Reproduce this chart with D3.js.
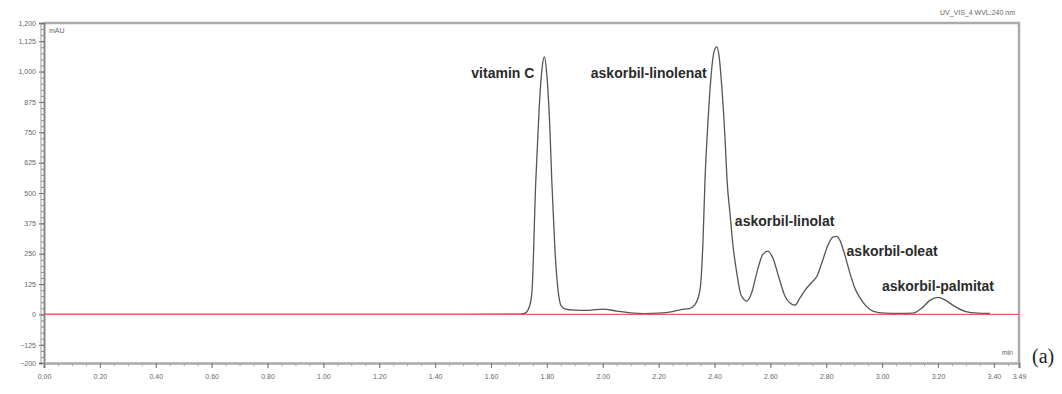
<!DOCTYPE html>
<html>
<head>
<meta charset="utf-8">
<script src="https://cdn.jsdelivr.net/npm/d3@7"></script>
<style>
  body { margin: 0; background: #fff; }
  svg { display: block; font-family: "Liberation Sans", Arial, sans-serif; }
  .tick text { fill: #666; font-size: 7px; }
</style>
</head>
<body>
<svg id="chart" width="1062" height="394"></svg>
<script>
// chromatogram trace (time in min, signal in mAU)
const times = [0.00, 0.30, 0.60, 0.90, 1.20, 1.50, 1.70, 1.722, 1.739, 1.747, 1.760, 1.772, 1.782, 1.791,
  1.800, 1.811, 1.818, 1.829, 1.840, 1.850, 1.865, 1.90, 1.95, 2.00, 2.05, 2.10, 2.15, 2.20, 2.25,
  2.28, 2.31, 2.33, 2.348, 2.359, 2.366, 2.377, 2.388, 2.398, 2.408, 2.416, 2.427, 2.438, 2.445,
  2.456, 2.466, 2.481, 2.495, 2.516, 2.534, 2.552, 2.573, 2.591, 2.609, 2.631, 2.652, 2.670, 2.688,
  2.706, 2.727, 2.749, 2.767, 2.785, 2.806, 2.824, 2.837, 2.849, 2.867, 2.885, 2.903, 2.920, 2.942,
  2.967, 3.010, 3.060, 3.110, 3.142, 3.171, 3.200, 3.228, 3.260, 3.296, 3.343, 3.386];
const signal = [0, 0, 0, 0, 0, 0, 1, 5, 38, 100, 540, 840, 1005, 1060,
  985, 760, 540, 265, 100, 38, 22, 18, 17, 22, 14, 6, 3, 5, 12,
  20, 24, 40, 100, 305, 552, 800, 985, 1080, 1102, 1068, 924, 718, 552,
  410, 286, 162, 80, 55, 92, 174, 247, 261, 232, 150, 76, 47, 38,
  68, 104, 133, 158, 215, 285, 318, 321, 305, 243, 169, 107, 70, 35,
  14, 5, 4, 5, 26, 58, 70, 58, 33, 13, 5, 4];

const peakNames = ["vitamin C", "askorbil-linolenat", "askorbil-linolat", "askorbil-oleat", "askorbil-palmitat"];
const peakTimes = [1.791, 2.408, 2.591, 2.837, 3.200];
const peakHeights = [1060, 1102, 261, 321, 70];

const yTickValues = [1200, 1125, 1000, 875, 750, 625, 500, 375, 250, 125, 0, -125, -200];
const xTickValues = [0, 0.2, 0.4, 0.6, 0.8, 1.0, 1.2, 1.4, 1.6, 1.8, 2.0, 2.2, 2.4, 2.6, 2.8, 3.0, 3.2, 3.4, 3.49];

const svg = d3.select("#chart");
const plot = {left: 44, right: 1019, top: 23, bottom: 363};

const x = d3.scaleLinear().domain([0, 3.49]).range([plot.left, plot.right]);
const y = d3.scaleLinear().domain([-200, 1200]).range([plot.bottom, plot.top]);

// frame (top + right)
svg.append("path")
    .attr("d", `M${plot.left},${plot.top}H${plot.right}V${plot.bottom}`)
    .attr("fill", "none")
    .attr("stroke", "#aaa")
    .attr("stroke-width", 2.5);

// minor ticks
svg.append("g")
    .attr("transform", `translate(${plot.left},0)`)
    .call(d3.axisLeft(y).tickValues(d3.range(-200, 1201, 25)).tickSize(3).tickFormat(""))
    .call(g => g.select(".domain").remove())
    .call(g => g.selectAll("line").attr("stroke", "#888"));
svg.append("g")
    .attr("transform", `translate(0,${plot.bottom})`)
    .call(d3.axisBottom(x).tickValues(d3.range(0, 3.49, 0.05)).tickSize(3).tickFormat(""))
    .call(g => g.select(".domain").remove())
    .call(g => g.selectAll("line").attr("stroke", "#999"));

// major axes
const yAxis = svg.append("g")
    .attr("transform", `translate(${plot.left},0)`)
    .call(d3.axisLeft(y).tickValues(yTickValues).tickSize(5).tickPadding(3).tickFormat(d3.format(",")));
yAxis.select(".domain").attr("stroke", "#888").attr("stroke-width", 2);
yAxis.selectAll(".tick line").attr("stroke", "#666");

const xAxis = svg.append("g")
    .attr("transform", `translate(0,${plot.bottom})`)
    .call(d3.axisBottom(x).tickValues(xTickValues).tickSize(5).tickPadding(6).tickFormat(d3.format(".2f")));
xAxis.select(".domain").attr("stroke", "#aaa").attr("stroke-width", 2.5);
xAxis.selectAll(".tick line").attr("stroke", "#777");

// second thin line on the left axis
svg.append("line")
    .attr("x1", plot.left - 3).attr("x2", plot.left - 3)
    .attr("y1", plot.top).attr("y2", plot.bottom)
    .attr("stroke", "#999").attr("stroke-width", 1);

// units + channel name
svg.append("text").attr("x", plot.left + 5).attr("y", plot.top + 10)
    .attr("font-size", 7).attr("fill", "#666").text("mAU");
svg.append("text").attr("x", plot.right - 6).attr("y", plot.bottom - 8)
    .attr("text-anchor", "end").attr("font-size", 7).attr("fill", "#666").text("min");
svg.append("text").attr("x", plot.right - 4).attr("y", plot.top - 8)
    .attr("text-anchor", "end").attr("font-size", 7).attr("fill", "#666").text("UV_VIS_4 WVL:240 nm");

// trace
const trace = times.map((t, i) => ({t: t, v: signal[i]}));
svg.append("path")
    .datum(trace)
    .attr("fill", "none")
    .attr("stroke", "#555")
    .attr("stroke-width", 1.3)
    .attr("d", d3.line().x(d => x(d.t)).y(d => y(d.v)).curve(d3.curveMonotoneX));

// baseline, drawn over the trace
svg.append("line")
    .attr("x1", x(0)).attr("x2", x(3.49))
    .attr("y1", y(0)).attr("y2", y(0))
    .attr("stroke", "#e26060").attr("stroke-width", 1.3);

// peak labels, offsets in px relative to the peak apex
const labelOffsets = [[-10, 21, "end"], [-10, 31, "end"], [-33, -25, "start"], [10, 20, "start"], [0, -6, "middle"]];
svg.append("g")
  .selectAll("text")
  .data(peakNames)
  .join("text")
    .attr("x", (d, i) => x(peakTimes[i]) + labelOffsets[i][0])
    .attr("y", (d, i) => y(peakHeights[i]) + labelOffsets[i][1])
    .attr("text-anchor", (d, i) => labelOffsets[i][2])
    .attr("font-size", 14)
    .attr("font-weight", "bold")
    .attr("fill", "#2a2a2a")
    .text(d => d);

svg.append("text")
    .attr("x", 1032).attr("y", 363)
    .attr("font-family", "'Liberation Serif', serif")
    .attr("font-size", 20)
    .attr("fill", "#222")
    .text("(a)");
</script>
</body>
</html>
